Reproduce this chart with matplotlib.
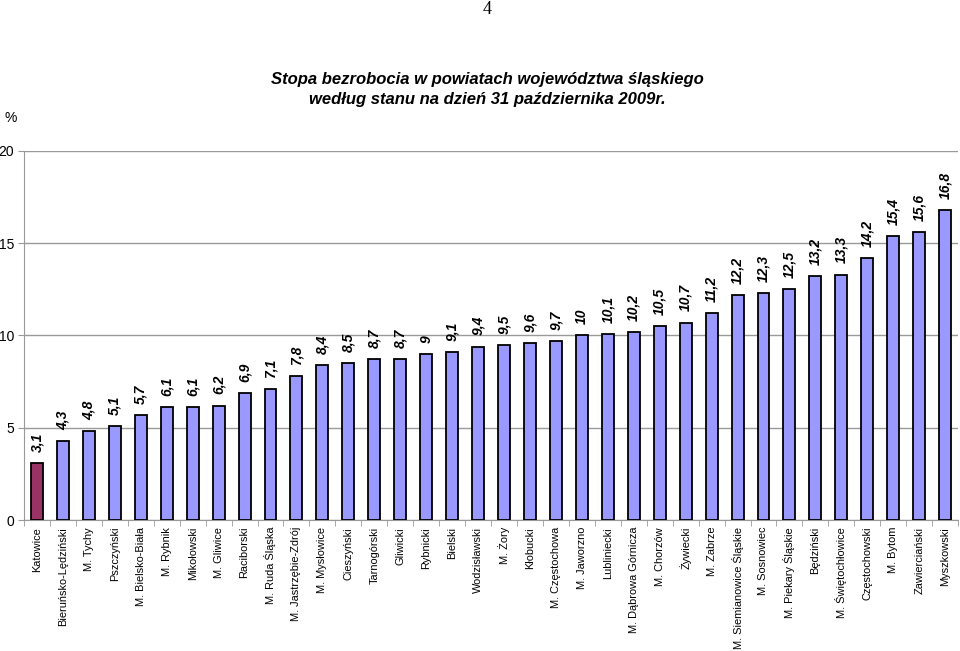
import matplotlib
matplotlib.use('Agg')
from matplotlib import pyplot as plt
import numpy as np

plt.rcParams['font.family'] = ['Liberation Sans', 'DejaVu Sans']

powiaty = [
    'Katowice', 'Bieruńsko-Lędziński', 'M. Tychy', 'Pszczyński', 'M. Bielsko-Biała',
    'M. Rybnik', 'Mikołowski', 'M. Gliwice', 'Raciborski', 'M. Ruda Śląska',
    'M. Jastrzębie-Zdrój', 'M. Mysłowice', 'Cieszyński', 'Tarnogórski', 'Gliwicki',
    'Rybnicki', 'Bielski', 'Wodzisławski', 'M. Żory', 'Kłobucki', 'M. Częstochowa',
    'M. Jaworzno', 'Lubliniecki', 'M. Dąbrowa Górnicza', 'M. Chorzów', 'Żywiecki',
    'M. Zabrze', 'M. Siemianowice Śląskie', 'M. Sosnowiec', 'M. Piekary Śląskie',
    'Będziński', 'M. Świętochłowice', 'Częstochowski', 'M. Bytom', 'Zawierciański',
    'Myszkowski',
]
stopa = [
    3.1, 4.3, 4.8, 5.1, 5.7, 6.1, 6.1, 6.2, 6.9, 7.1, 7.8, 8.4, 8.5, 8.7, 8.7,
    9, 9.1, 9.4, 9.5, 9.6, 9.7, 10, 10.1, 10.2, 10.5, 10.7, 11.2, 12.2, 12.3,
    12.5, 13.2, 13.3, 14.2, 15.4, 15.6, 16.8,
]

fig = plt.figure(figsize=(9.6, 6.51), dpi=100)
ax = fig.add_axes([0.025, 0.2012, 0.973, 0.567])

x = np.arange(len(powiaty))
colors = ['#993366'] + ['#9999FF'] * (len(powiaty) - 1)
ax.bar(x, stopa, width=0.46, color=colors, edgecolor='black', linewidth=1.3, zorder=3)

for xi, v in zip(x, stopa):
    txt = ('%g' % v).replace('.', ',')
    ax.annotate(txt, (xi, v), xytext=(0, 8), textcoords='offset points',
                rotation=90, ha='center', va='bottom', fontsize=10,
                fontweight='bold', fontstyle='italic')

ax.set_xlim(-0.5, len(powiaty) - 0.5)
ax.set_ylim(0, 20)
ax.set_yticks([0, 5, 10, 15, 20])
ax.yaxis.grid(True, color='#999999', linewidth=1, zorder=0)
ax.set_xticks(x)
ax.set_xticklabels(powiaty, rotation=90, fontsize=7.9)
ax.set_xticks(np.arange(-0.5, len(powiaty), 1), minor=True)
ax.tick_params(axis='x', which='major', length=0, pad=5)
ax.tick_params(axis='x', which='minor', length=4, color='#999999')
ax.tick_params(axis='y', length=4, color='#999999', labelsize=10, pad=3)
for s in ['top', 'right']:
    ax.spines[s].set_visible(False)
for s in ['left', 'bottom']:
    ax.spines[s].set_color('#999999')

fig.text(0.508, 0.863, 'Stopa bezrobocia w powiatach województwa śląskiego\nwedług stanu na dzień 31 października 2009r.',
         ha='center', va='center', fontsize=12, fontweight='bold', fontstyle='italic',
         linespacing=1.4)
fig.text(0.011, 0.818, '%', ha='center', va='center', fontsize=10)
fig.text(0.507, 0.985, '4', ha='center', va='center', fontsize=13, family='Liberation Serif')

plt.savefig('out.png', dpi=100)
